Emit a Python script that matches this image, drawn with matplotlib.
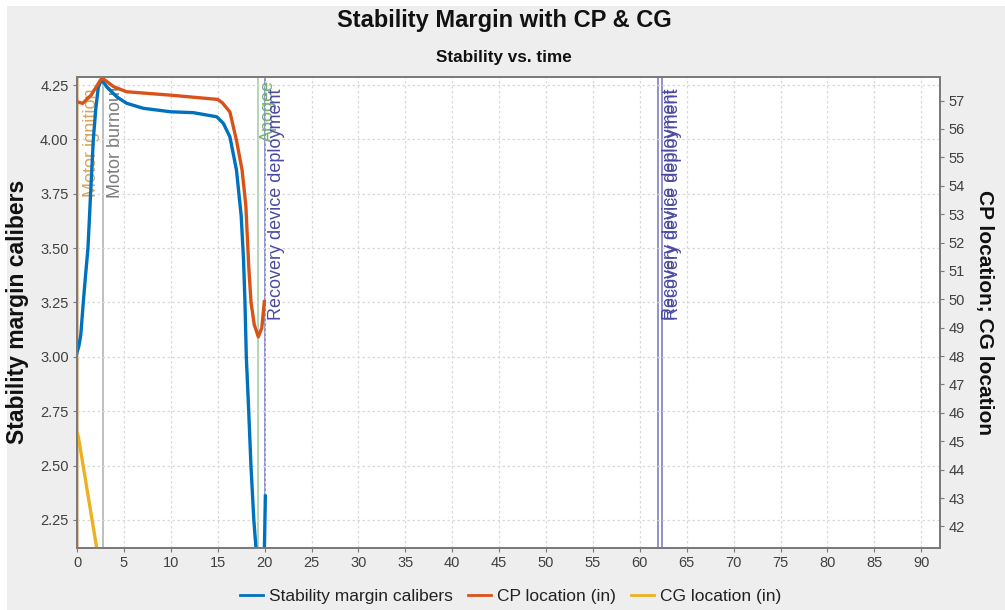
import numpy as np
import matplotlib
matplotlib.use("Agg")
import matplotlib.pyplot as plt
from matplotlib.lines import Line2D
from matplotlib.patches import Rectangle

# ---------------------------------------------------------------------------
# Data
# ---------------------------------------------------------------------------

# stability margin, left axis (calibers); None splits the two visible pieces
stab_t = [0, 0.2, 0.4, 0.67, 0.9, 1.17, 1.45, 1.74, 2.0, 2.27, 2.63, 3.2, 4.23,
          5.3, 7.07, 10.0, 12.4, 14.9, 15.6, 16.3, 17.0, 17.5, 17.75, 17.9,
          18.05, 18.3, 18.55, 18.85, 19.1, 19.5, 19.95, 20.02, 20.08]
stab_v = [3.02, 3.05, 3.10, 3.25, 3.37, 3.50, 3.75, 4.00, 4.14, 4.24, 4.275, 4.24,
          4.196, 4.166, 4.143, 4.127, 4.123, 4.104, 4.074, 4.012, 3.859, 3.65,
          3.45, 3.26, 3.0, 2.756, 2.494, 2.25, 2.11, None, 2.05, 2.22, 2.36]

# CP location (in), right axis
cp_t = [0, 0.6, 1.5, 2.5, 2.7, 3.9, 5.3, 10, 15, 15.5, 16.3, 17.0, 17.6, 18.0,
        18.3, 18.55, 18.9, 19.33, 19.7, 19.97]
cp_v = [56.96, 56.90, 57.19, 57.72, 57.79, 57.49, 57.31, 57.19, 57.04, 56.92,
        56.6, 55.6, 54.55, 53.3, 51.2, 49.9, 49.1, 48.68, 48.99, 49.92]

# CG location (in), right axis
cg_t = [0, 0.15, 1.0, 2.1, 2.3]
cg_v = [45.3, 45.15, 43.45, 41.24, 40.85]

# flight events
event_names = ['Motor ignition', 'Motor burnout', 'Apogee',
               'Recovery device deployment', 'Recovery device deployment',
               'Recovery device deployment']
event_times = [0.08, 2.8, 19.25, 20.05, 61.97, 62.33]

x_ticks = list(range(0, 95, 5))
left_ticks = [2.25, 2.50, 2.75, 3.00, 3.25, 3.50, 3.75, 4.00, 4.25]
right_ticks = list(range(42, 58))

# ---------------------------------------------------------------------------
# Style
# ---------------------------------------------------------------------------

BLUE, ORANGE, YELLOW = '#0072BD', '#D95319', '#EDB120'
TICK_COL = '#404040'
SPINE_COL = '#7a7a7a'
SANS = ['Liberation Sans', 'DejaVu Sans']
plt.rcParams['font.family'] = SANS

event_style = {   # name -> (line colour, text colour, text x offset, text bottom)
    'Motor ignition': ('#e2b98a', '#d9a35f', 0.55, 3.735),
    'Motor burnout': ('#b4b4b4', '#7d7d7d', 0.45, 3.73),
    'Apogee': ('#a8d0a8', '#74b274', 0.3, 3.99),
    'Recovery device deployment': ('#7f7fc0', '#4a4aa0', 0.35, 3.17),
}

# ---------------------------------------------------------------------------
# Plot
# ---------------------------------------------------------------------------

fig = plt.figure(figsize=(10.05, 6.1), dpi=100, facecolor='white')
fig.patches.append(Rectangle((7 / 1005, 0), 1, 1 - 6 / 610, transform=fig.transFigure,
                             facecolor='#eeeeee', edgecolor='none', zorder=-10))

ax = fig.add_axes([77 / 1005, 1 - 548 / 610, (940 - 77) / 1005, (548 - 77) / 610])
ax.set_facecolor('white')
ax2 = ax.twinx()

st = np.array([np.nan if v is None else v for v in stab_v], dtype=float)

# event markers
for name, t in zip(event_names, event_times):
    lc, tc, dx, yb = event_style[name]
    ax.axvline(t, color=lc, lw=1.2, zorder=1)
for name, t in zip(event_names, event_times):
    lc, tc, dx, yb = event_style[name]
    ax.text(t + dx, yb, name, rotation=90, ha='left', va='bottom', color=tc,
            fontsize=13, clip_on=True, zorder=2)

ax.plot(stab_t, st, color=BLUE, lw=2.4, zorder=3, solid_joinstyle='round')
ax2.plot(cp_t, cp_v, color=ORANGE, lw=2.4, solid_joinstyle='round')
ax2.plot(cg_t, cg_v, color=YELLOW, lw=2.4, solid_joinstyle='round')

ax.set_xlim(0, 92)
ax.set_ylim(2.121, 4.287)
ax2.set_ylim(41.24, 57.83)

ax.set_xticks(x_ticks)
ax.set_yticks(left_ticks)
ax.set_yticklabels([f'{v:.2f}' for v in left_ticks])
ax2.set_yticks(right_ticks)

ax.grid(True, color='#d9d9d9', linestyle=(0, (2, 2)), lw=0.9)
for a in (ax, ax2):
    for s in a.spines.values():
        s.set_color(SPINE_COL)
        s.set_linewidth(1.3)
    a.tick_params(length=3, width=0.8, color=SPINE_COL, labelcolor=TICK_COL,
                  labelsize=10.5, pad=3)

# titles and axis labels
fig.text(0.502, 0.966, 'Stability Margin with CP & CG', ha='center', va='center',
         fontsize=17, fontweight='bold', color='#111111')
fig.text(0.501, 0.906, 'Stability vs. time', ha='center', va='center',
         fontsize=12.3, fontweight='bold', color='#111111')
fig.text(0.017, 0.488, 'Stability margin calibers', rotation=90, ha='center',
         va='center', fontsize=16.5, fontweight='bold', color='#111111')
fig.text(0.980, 0.487, 'CP location; CG location', rotation=-90, ha='center',
         va='center', fontsize=15, fontweight='bold', color='#111111')

handles = [Line2D([], [], color=BLUE, lw=2),
           Line2D([], [], color=ORANGE, lw=2),
           Line2D([], [], color=YELLOW, lw=2)]
labels = ['Stability margin calibers', 'CP location (in)', 'CG location (in)']
fig.legend(handles, labels, loc='center', bbox_to_anchor=(0.508, 1 - 596 / 610),
           ncol=3, frameon=False, fontsize=12.5, handlelength=1.3,
           handletextpad=0.35, columnspacing=0.9, labelcolor='#222222')

fig.savefig('out.png', dpi=100, facecolor=fig.get_facecolor())
